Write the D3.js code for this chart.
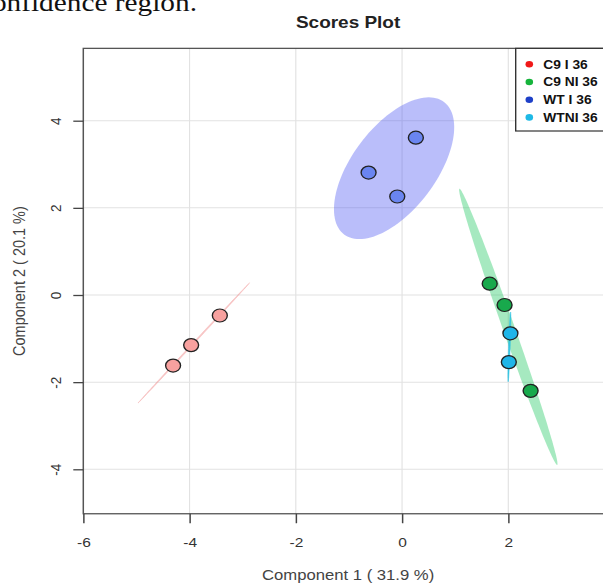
<!doctype html>
<html lang="en">
<head>
    <title>Scores Plot</title>
    <script src="https://d3js.org/d3.v7.min.js"></script>
    <style>
        body { margin: 0; background: white; }
        svg text { font-family: "Liberation Sans", Arial, sans-serif; }
    </style>
</head>
<body>
    <div id="chart"></div>
    <script>
        // Group names (legend)
        var groups = ["C9 I 36", "C9 NI 36", "WT I 36", "WTNI 36"];

        // Scores per group (component 1, component 2)
        var c9iX   = [-4.31, -3.97, -3.43];
        var c9iY   = [-1.62, -1.15, -0.47];
        var c9niX  = [1.65, 1.93, 2.42];
        var c9niY  = [0.26, -0.23, -2.20];
        var wtiX   = [0.26, -0.63, -0.09];
        var wtiY   = [3.61, 2.81, 2.26];
        var wtniX  = [2.04, 2.01];
        var wtniY  = [-0.88, -1.54];

        // Confidence ellipses: centre, half major vector, half minor vector (data units)
        var ellipseCentre = [[-3.92, -1.10], [2.00, -0.73], [-0.15, 2.91], [2.02, -1.19]];
        var ellipseMajor  = [[1.05, 1.38], [-0.92, 3.17], [0.94, 1.52], [0.023, 0.80]];
        var ellipseMinor  = [[0.009, -0.010], [0.105, 0.045], [0.63, -0.58], [0.015, 0.0]];

        // Axis ticks and limits
        var xTicks = [-6, -4, -2, 0, 2];
        var yTicks = [-4, -2, 0, 2, 4];
        var xLim   = [-6, 3.97];
        var yLim   = [-5.02, 5.66];

        // Colours
        var pointFill   = ["#f7a19f", "#18a94c", "#6a85f0", "#1fb5e8"];
        var ellipseFill = ["#f08a8a", "#2ccb68", "#4a55f2", "#2cc3e2"];
        var ellipseOpac = [0.45, 0.42, 0.38, 0.9];
        var legendFill  = ["#f01818", "#16b43c", "#1e40c8", "#1eb9e6"];

        // The picture is stretched sideways a little
        var SX = 1.15, W = 603, H = 585;
        function px(v) { return v / SX; }

        var svg = d3.select("#chart")
            .append("svg")
            .attr("width", W)
            .attr("height", H)
            .attr("viewBox", [0, 0, W / SX, H])
            .attr("preserveAspectRatio", "none");

        var x = d3.scaleLinear().domain([-6, 2]).range([px(83.3), px(508.3)]);
        var y = d3.scaleLinear().domain([-4, 4]).range([469.3, 120.7]);

        // Cut-off caption text from the page above
        svg.append("text")
            .attr("x", px(197))
            .attr("y", 11)
            .attr("text-anchor", "end")
            .style("font-family", "'Liberation Serif', 'Times New Roman', serif")
            .style("font-size", "25.5px")
            .attr("fill", "#111")
            .text("confidence region.");

        // Title
        svg.append("text")
            .attr("x", (x(xLim[0]) + x(xLim[1])) / 2)
            .attr("y", 28)
            .attr("text-anchor", "middle")
            .style("font-size", "16.5px")
            .style("font-weight", "bold")
            .attr("fill", "#222")
            .text("Scores Plot");

        // Gridlines
        svg.append("g").selectAll("line")
            .data(xTicks.filter(function(d) { return d > xLim[0]; }))
            .enter().append("line")
            .attr("x1", function(d) { return x(d); })
            .attr("x2", function(d) { return x(d); })
            .attr("y1", y(yLim[1]))
            .attr("y2", y(yLim[0]))
            .attr("stroke", "#e2e2e2")
            .attr("stroke-width", 1);

        svg.append("g").selectAll("line")
            .data(yTicks)
            .enter().append("line")
            .attr("x1", x(xLim[0]))
            .attr("x2", x(xLim[1]))
            .attr("y1", function(d) { return y(d); })
            .attr("y2", function(d) { return y(d); })
            .attr("stroke", "#e2e2e2")
            .attr("stroke-width", 1);

        // Ellipses
        var line = d3.line()
            .x(function(d) { return x(d[0]); })
            .y(function(d) { return y(d[1]); });

        var steps = d3.range(0, 121).map(function(i) { return i / 120 * 2 * Math.PI; });

        ellipseCentre.forEach(function(c, g)
        {
            var u = ellipseMajor[g], v = ellipseMinor[g];
            var pts = steps.map(function(t) {
                return [c[0] + Math.cos(t) * u[0] + Math.sin(t) * v[0],
                        c[1] + Math.cos(t) * u[1] + Math.sin(t) * v[1]];
            });
            svg.append("path")
                .attr("d", line(pts) + "Z")
                .attr("fill", ellipseFill[g])
                .attr("fill-opacity", ellipseOpac[g])
                .attr("stroke", ellipseFill[g])
                .attr("stroke-opacity", g == 0 ? 0.35 : (g == 3 ? 0.7 : 0))
                .attr("stroke-width", 0.7);
        });

        // Points
        var series = [[c9iX, c9iY], [c9niX, c9niY], [wtiX, wtiY], [wtniX, wtniY]];
        series.forEach(function(s, g)
        {
            svg.append("g").selectAll("circle")
                .data(s[0])
                .enter().append("circle")
                .attr("cx", function(d) { return x(d); })
                .attr("cy", function(d, i) { return y(s[1][i]); })
                .attr("r", 6.5)
                .attr("fill", pointFill[g])
                .attr("stroke", "#222")
                .attr("stroke-width", 1.2);
        });

        // Plot box
        svg.append("rect")
            .attr("x", x(xLim[0]))
            .attr("y", y(yLim[1]))
            .attr("width", x(xLim[1]) - x(xLim[0]))
            .attr("height", y(yLim[0]) - y(yLim[1]))
            .attr("fill", "none")
            .attr("stroke", "#555")
            .attr("stroke-width", 1.3);

        // Bottom axis
        var xAxis = svg.append("g")
            .attr("transform", "translate(0," + y(yLim[0]) + ")")
            .call(d3.axisBottom(x).tickValues(xTicks).tickSize(9.5).tickPadding(13.8)
                .tickFormat(function(d) { return d; }));
        xAxis.select(".domain").remove();
        xAxis.selectAll("line").attr("stroke", "#444").attr("stroke-width", 1.3);
        xAxis.selectAll("text")
            .style("font-size", "13.5px")
            .style("font-family", "'Liberation Sans', Arial, sans-serif")
            .attr("fill", "#333");

        // Left axis, labels turned
        var yAxis = svg.append("g")
            .attr("transform", "translate(" + x(xLim[0]) + ",0)")
            .call(d3.axisLeft(y).tickValues(yTicks).tickSize(px(10)).tickFormat(function(d) { return d; }));
        yAxis.select(".domain").remove();
        yAxis.selectAll("line").attr("stroke", "#444").attr("stroke-width", 1.3);
        yAxis.selectAll("text")
            .attr("x", 0)
            .attr("dy", 0)
            .attr("text-anchor", "middle")
            .attr("transform", "translate(" + (-px(22)) + ",0) rotate(-90)")
            .style("font-size", "13.5px")
            .style("font-family", "'Liberation Sans', Arial, sans-serif")
            .attr("fill", "#333");

        // Axis titles
        svg.append("text")
            .attr("x", (x(xLim[0]) + x(xLim[1])) / 2)
            .attr("y", 580)
            .attr("text-anchor", "middle")
            .style("font-size", "14.5px")
            .attr("fill", "#444")
            .text("Component 1 ( 31.9 %)");

        svg.append("text")
            .attr("transform", "translate(" + px(25) + "," + ((y(yLim[0]) + y(yLim[1])) / 2) + ") rotate(-90)")
            .attr("text-anchor", "middle")
            .style("font-size", "14.5px")
            .attr("fill", "#444")
            .text("Component 2 ( 20.1 %)");

        // Legend
        var legend = svg.append("g");
        legend.append("rect")
            .attr("x", px(515.7))
            .attr("y", y(yLim[1]))
            .attr("width", px(120))
            .attr("height", 131 - y(yLim[1]))
            .attr("fill", "white")
            .attr("stroke", "#333")
            .attr("stroke-width", 1.2);

        var row = legend.selectAll("g.row")
            .data(groups)
            .enter().append("g")
            .attr("class", "row")
            .attr("transform", function(d, i) { return "translate(0," + (64.3 + i * 17.7) + ")"; });

        row.append("circle")
            .attr("cx", px(529.3))
            .attr("cy", 0)
            .attr("r", 3.3)
            .attr("fill", function(d, i) { return legendFill[i]; });

        row.append("text")
            .attr("x", px(543.3))
            .attr("y", 4.3)
            .style("font-size", "12px")
            .style("font-weight", "bold")
            .attr("fill", "#111")
            .text(function(d) { return d; });
    </script>
</body>
</html>
